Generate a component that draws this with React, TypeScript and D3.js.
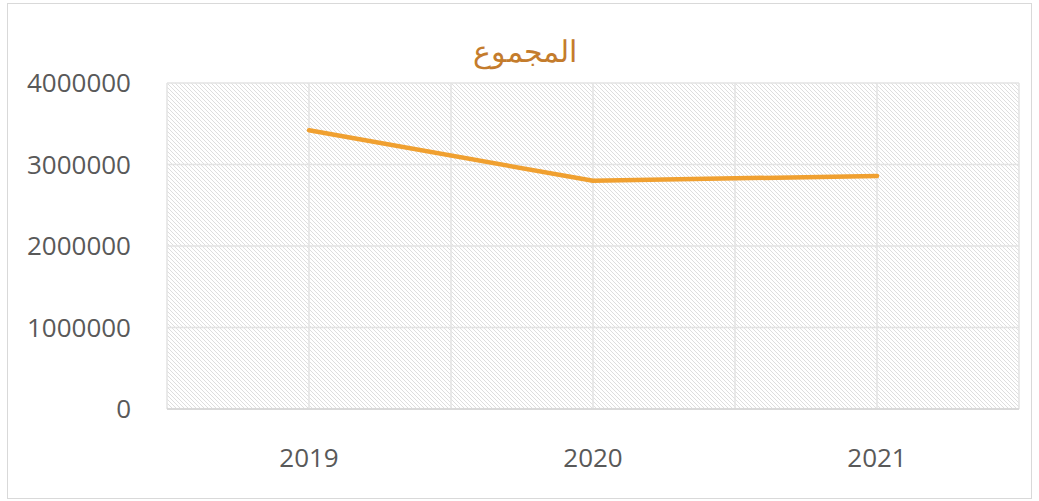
import { useRef, useEffect } from "react";
import * as d3 from "d3";

const years = ["2019", "2020", "2021"];
const totals = [3420000, 2800000, 2860000];
const yTicks = [0, 1000000, 2000000, 3000000, 4000000];
const title = "المجموع";

const App = () => {
  const svgRef = useRef<SVGSVGElement>(null);

  useEffect(() => {
    const w = 1039;
    const h = 501;
    const m = { left: 167, right: 20, top: 83, bottom: 92 };
    const svg = d3.select(svgRef.current).attr("width", w).attr("height", h);
    svg.selectAll("*").remove();

    // hatch fill
    const defs = svg.append("defs");
    const pat = defs
      .append("pattern")
      .attr("id", "hatch")
      .attr("patternUnits", "userSpaceOnUse")
      .attr("width", 4)
      .attr("height", 4);
    pat
      .append("path")
      .attr("d", "M-1,-1 L5,5 M-1,3 L1,5 M3,-1 L5,1")
      .attr("stroke", "#dedede")
      .attr("stroke-width", 1);

    // outer frame
    svg
      .append("rect")
      .attr("x", 7.5)
      .attr("y", 3.5)
      .attr("width", 1024)
      .attr("height", 495)
      .attr("fill", "white")
      .attr("stroke", "#d9d9d9");

    const x = d3
      .scaleBand()
      .domain(years)
      .range([m.left, w - m.right]);
    const y = d3
      .scaleLinear()
      .domain([0, 4000000])
      .range([h - m.bottom, m.top]);

    svg
      .append("rect")
      .attr("x", m.left)
      .attr("y", m.top)
      .attr("width", w - m.left - m.right)
      .attr("height", h - m.top - m.bottom)
      .attr("fill", "url(#hatch)");

    // gridlines
    const g = svg.append("g").attr("stroke", "#e3e3e3").attr("stroke-width", 1.5);
    yTicks.forEach((t) => {
      g.append("line")
        .attr("x1", m.left)
        .attr("x2", w - m.right)
        .attr("y1", y(t))
        .attr("y2", y(t));
    });
    const vx: number[] = [];
    years.forEach((d) => {
      vx.push(x(d)!);
      vx.push(x(d)! + x.bandwidth() / 2);
    });
    vx.push(w - m.right);
    vx.forEach((v) => {
      g.append("line")
        .attr("x1", v)
        .attr("x2", v)
        .attr("y1", m.top)
        .attr("y2", h - m.bottom);
    });
    // axis line
    svg
      .append("line")
      .attr("x1", m.left)
      .attr("x2", w - m.right)
      .attr("y1", y(0))
      .attr("y2", y(0))
      .attr("stroke", "#d9d9d9")
      .attr("stroke-width", 2);

    // y labels
    svg
      .append("g")
      .selectAll("text")
      .data(yTicks)
      .join("text")
      .attr("x", 131)
      .attr("y", (d) => y(d) + 9)
      .attr("text-anchor", "end")
      .style("font-family", "'Open Sans', sans-serif")
      .style("font-size", "26px")
      .attr("fill", "#595959")
      .text((d) => d);

    // x labels
    svg
      .append("g")
      .selectAll("text")
      .data(years)
      .join("text")
      .attr("x", (d) => x(d)! + x.bandwidth() / 2)
      .attr("y", 467)
      .attr("text-anchor", "middle")
      .style("font-family", "'Open Sans', sans-serif")
      .style("font-size", "26px")
      .attr("fill", "#595959")
      .text((d) => d);

    const line = d3
      .line<number>()
      .x((d, i) => x(years[i])! + x.bandwidth() / 2)
      .y((d) => y(d));
    svg
      .append("path")
      .datum(totals)
      .attr("d", line)
      .attr("fill", "none")
      .attr("stroke", "#f0a030")
      .attr("stroke-width", 4.5)
      .attr("stroke-linejoin", "round")
      .attr("stroke-linecap", "round");

    svg
      .append("text")
      .attr("x", 525)
      .attr("y", 62)
      .attr("text-anchor", "middle")
      .style("font-family", "'DejaVu Serif', serif")
      .style("font-size", "30px")
      .attr("fill", "#c47c2c")
      .text(title);
  }, []);

  return (
    <div style={{ position: "fixed", left: 0, top: 0 }}>
      <svg ref={svgRef} style={{ display: "block" }}></svg>
    </div>
  );
};

export default App;
